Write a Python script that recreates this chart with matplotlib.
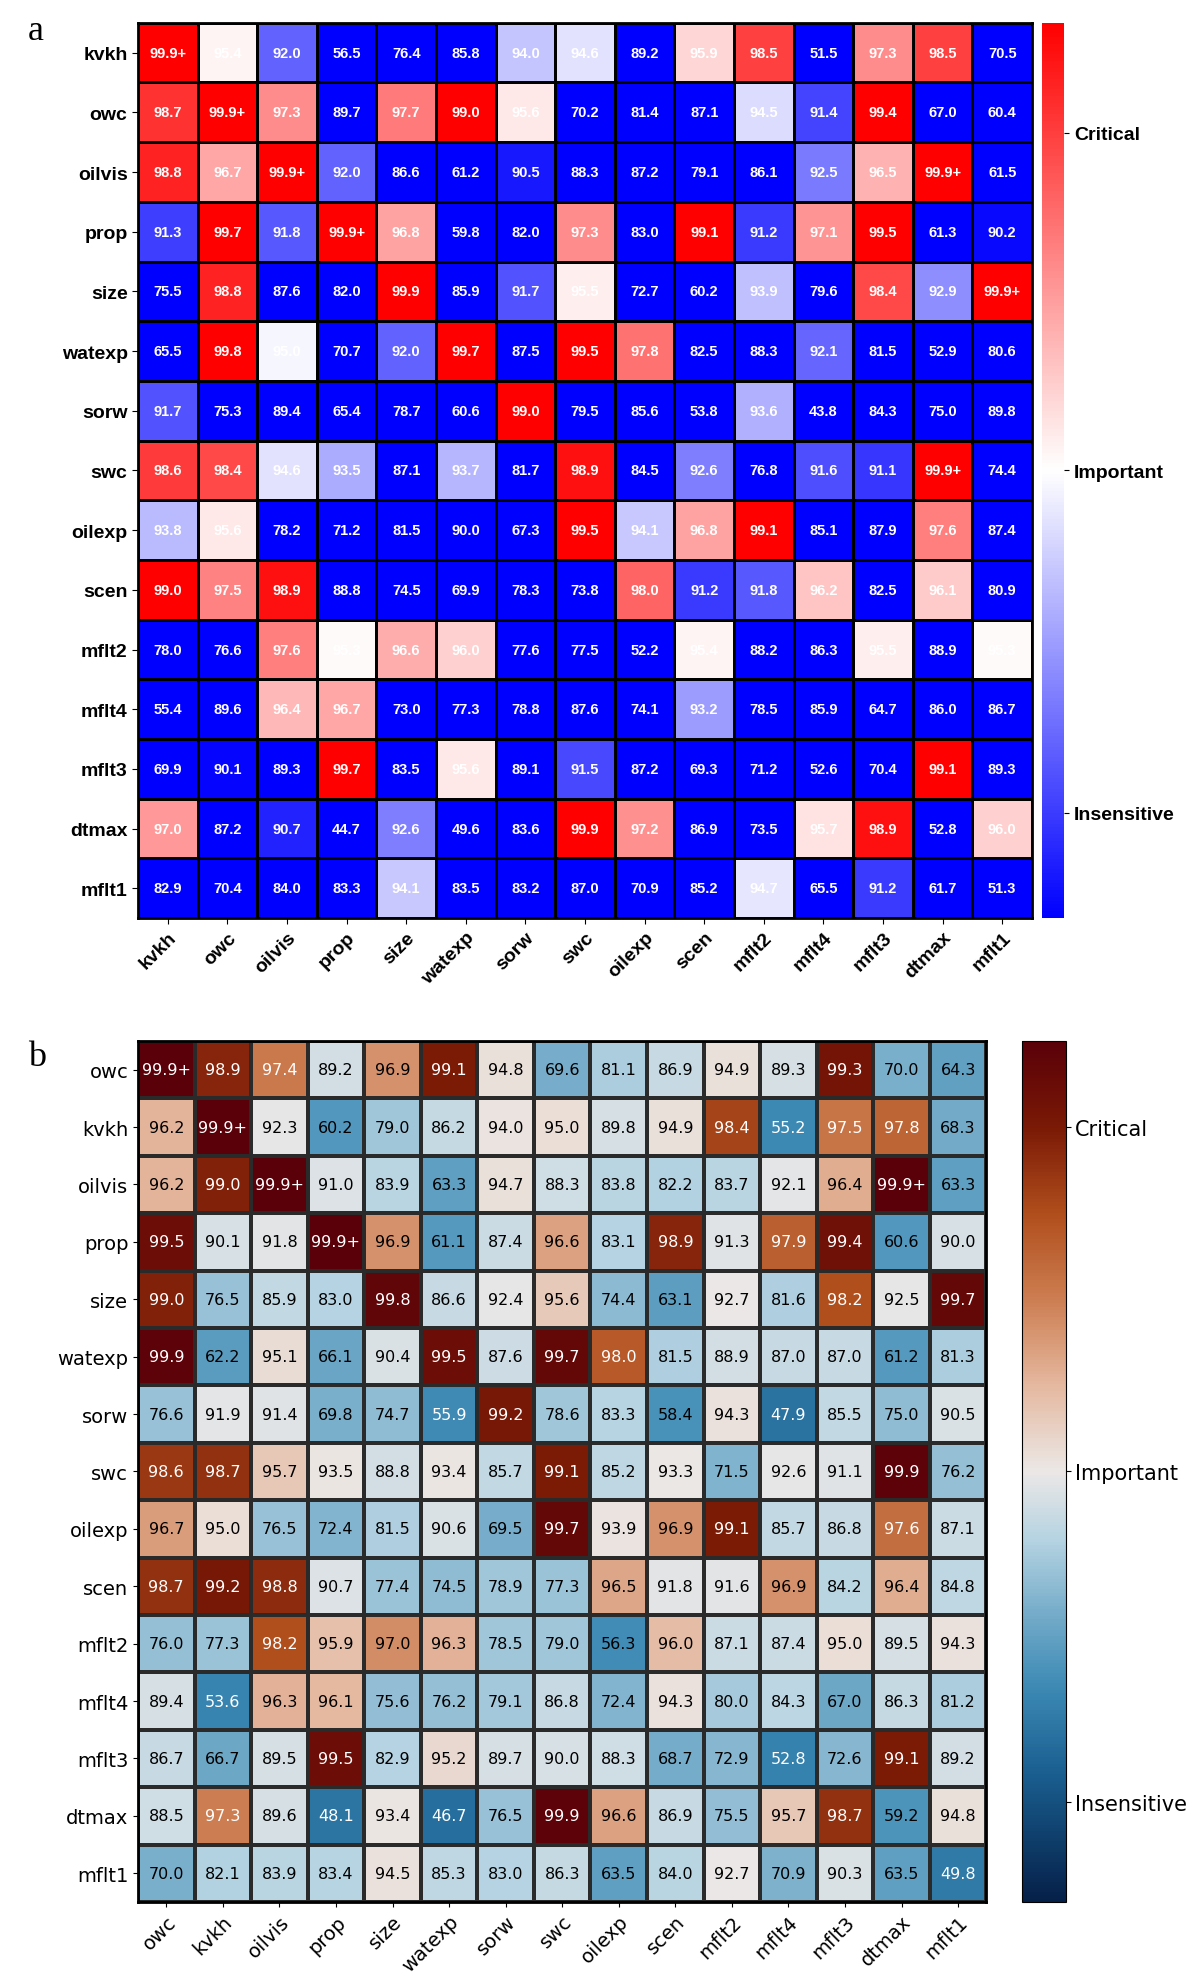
import numpy as np
import matplotlib
matplotlib.use("Agg")
import matplotlib.pyplot as plt
from matplotlib.colors import LinearSegmentedColormap, Normalize
from matplotlib.cm import ScalarMappable

# ---- data ----
names_a = ["kvkh", "owc", "oilvis", "prop", "size", "watexp", "sorw", "swc",
           "oilexp", "scen", "mflt2", "mflt4", "mflt3", "dtmax", "mflt1"]
labels_a = [
    "99.9+ 95.4 92.0 56.5 76.4 85.8 94.0 94.6 89.2 95.9 98.5 51.5 97.3 98.5 70.5",
    "98.7 99.9+ 97.3 89.7 97.7 99.0 95.6 70.2 81.4 87.1 94.5 91.4 99.4 67.0 60.4",
    "98.8 96.7 99.9+ 92.0 86.6 61.2 90.5 88.3 87.2 79.1 86.1 92.5 96.5 99.9+ 61.5",
    "91.3 99.7 91.8 99.9+ 96.8 59.8 82.0 97.3 83.0 99.1 91.2 97.1 99.5 61.3 90.2",
    "75.5 98.8 87.6 82.0 99.9 85.9 91.7 95.5 72.7 60.2 93.9 79.6 98.4 92.9 99.9+",
    "65.5 99.8 95.0 70.7 92.0 99.7 87.5 99.5 97.8 82.5 88.3 92.1 81.5 52.9 80.6",
    "91.7 75.3 89.4 65.4 78.7 60.6 99.0 79.5 85.6 53.8 93.6 43.8 84.3 75.0 89.8",
    "98.6 98.4 94.6 93.5 87.1 93.7 81.7 98.9 84.5 92.6 76.8 91.6 91.1 99.9+ 74.4",
    "93.8 95.6 78.2 71.2 81.5 90.0 67.3 99.5 94.1 96.8 99.1 85.1 87.9 97.6 87.4",
    "99.0 97.5 98.9 88.8 74.5 69.9 78.3 73.8 98.0 91.2 91.8 96.2 82.5 96.1 80.9",
    "78.0 76.6 97.6 95.3 96.6 96.0 77.6 77.5 52.2 95.4 88.2 86.3 95.5 88.9 95.3",
    "55.4 89.6 96.4 96.7 73.0 77.3 78.8 87.6 74.1 93.2 78.5 85.9 64.7 86.0 86.7",
    "69.9 90.1 89.3 99.7 83.5 95.6 89.1 91.5 87.2 69.3 71.2 52.6 70.4 99.1 89.3",
    "97.0 87.2 90.7 44.7 92.6 49.6 83.6 99.9 97.2 86.9 73.5 95.7 98.9 52.8 96.0",
    "82.9 70.4 84.0 83.3 94.1 83.5 83.2 87.0 70.9 85.2 94.7 65.5 91.2 61.7 51.3",
]

names_b = ["owc", "kvkh", "oilvis", "prop", "size", "watexp", "sorw", "swc",
           "oilexp", "scen", "mflt2", "mflt4", "mflt3", "dtmax", "mflt1"]
labels_b = [
    "99.9+ 98.9 97.4 89.2 96.9 99.1 94.8 69.6 81.1 86.9 94.9 89.3 99.3 70.0 64.3",
    "96.2 99.9+ 92.3 60.2 79.0 86.2 94.0 95.0 89.8 94.9 98.4 55.2 97.5 97.8 68.3",
    "96.2 99.0 99.9+ 91.0 83.9 63.3 94.7 88.3 83.8 82.2 83.7 92.1 96.4 99.9+ 63.3",
    "99.5 90.1 91.8 99.9+ 96.9 61.1 87.4 96.6 83.1 98.9 91.3 97.9 99.4 60.6 90.0",
    "99.0 76.5 85.9 83.0 99.8 86.6 92.4 95.6 74.4 63.1 92.7 81.6 98.2 92.5 99.7",
    "99.9 62.2 95.1 66.1 90.4 99.5 87.6 99.7 98.0 81.5 88.9 87.0 87.0 61.2 81.3",
    "76.6 91.9 91.4 69.8 74.7 55.9 99.2 78.6 83.3 58.4 94.3 47.9 85.5 75.0 90.5",
    "98.6 98.7 95.7 93.5 88.8 93.4 85.7 99.1 85.2 93.3 71.5 92.6 91.1 99.9 76.2",
    "96.7 95.0 76.5 72.4 81.5 90.6 69.5 99.7 93.9 96.9 99.1 85.7 86.8 97.6 87.1",
    "98.7 99.2 98.8 90.7 77.4 74.5 78.9 77.3 96.5 91.8 91.6 96.9 84.2 96.4 84.8",
    "76.0 77.3 98.2 95.9 97.0 96.3 78.5 79.0 56.3 96.0 87.1 87.4 95.0 89.5 94.3",
    "89.4 53.6 96.3 96.1 75.6 76.2 79.1 86.8 72.4 94.3 80.0 84.3 67.0 86.3 81.2",
    "86.7 66.7 89.5 99.5 82.9 95.2 89.7 90.0 88.3 68.7 72.9 52.8 72.6 99.1 89.2",
    "88.5 97.3 89.6 48.1 93.4 46.7 76.5 99.9 96.6 86.9 75.5 95.7 98.7 59.2 94.8",
    "70.0 82.1 83.9 83.4 94.5 85.3 83.0 86.3 63.5 84.0 92.7 70.9 90.3 63.5 49.8",
]

cbar_ticks = ["Insensitive", "Important", "Critical"]


def parse(rows):
    txt = [r.split() for r in rows]
    val = np.array([[100.0 if t == "99.9+" else float(t) for t in r] for r in txt])
    return txt, val


txt_a, val_a = parse(labels_a)
txt_b, val_b = parse(labels_b)

# nonlinear mapping of score onto colour position
f_a = np.interp(val_a, [90, 95.2, 96.7, 97.7, 98.7, 99.0], [0, 0.5, 0.675, 0.76, 0.9, 1.0])
f_b = np.interp(val_b, [40, 48, 63, 80, 90, 95, 96.4, 97.5, 98.4, 99.3, 100],
                [0.1, 0.2, 0.3, 0.4, 0.47, 0.52, 0.62, 0.72, 0.82, 0.92, 1.0])

cmap_b = LinearSegmentedColormap.from_list("sens", [
    (0.0, "#052049"), (0.15, "#1a5f90"), (0.25, "#3d8ab5"), (0.33, "#72aac8"),
    (0.42, "#b5d3e2"), (0.5, "#ebe8e6"), (0.6, "#e5b8a0"), (0.7, "#cd7e52"),
    (0.8, "#b04e1c"), (0.9, "#7a1a06"), (1.0, "#5a0008")])

fig = plt.figure(figsize=(12, 19.81), dpi=100)

# ---- panel a ----
ax = fig.add_axes([0.115, 0.536, 0.745, 0.452])
ax.pcolormesh(f_a, cmap="bwr", vmin=0, vmax=1, edgecolors="black", linewidth=2)
ax.set_xlim(0, 15); ax.set_ylim(15, 0)
for i in range(15):
    for j in range(15):
        ax.text(j + 0.5, i + 0.5, txt_a[i][j], ha="center", va="center", color="white",
                fontsize=10.5, fontweight="bold", family="Liberation Sans")
ax.set_xticks(np.arange(15) + 0.5)
ax.set_yticks(np.arange(15) + 0.5)
ax.set_xticklabels(names_a, rotation=45, ha="right", rotation_mode="anchor",
                   fontsize=14, fontweight="bold", family="Liberation Sans")
ax.set_yticklabels(names_a, fontsize=14, fontweight="bold", family="Liberation Sans")
for s in ax.spines.values():
    s.set_linewidth(2)
ax.tick_params(length=4)

cax = fig.add_axes([0.868, 0.536, 0.019, 0.452])
cb = fig.colorbar(ScalarMappable(Normalize(0, 1), "bwr"), cax=cax)
cb.outline.set_visible(False)
cb.set_ticks([0.118, 0.5, 0.877])
cb.set_ticklabels(cbar_ticks)
for t in cax.get_yticklabels():
    t.set_fontsize(14); t.set_fontweight("bold"); t.set_family("Liberation Sans")

# ---- panel b ----
bx = fig.add_axes([0.115, 0.0394, 0.707, 0.4346])
bx.pcolormesh(f_b, cmap=cmap_b, vmin=0, vmax=1, edgecolors="#2a2a2a", linewidth=1.5)
bx.set_xlim(0, 15); bx.set_ylim(15, 0)
for i in range(15):
    for j in range(15):
        v = val_b[i, j]
        col = "white" if (v >= 97.2 or v < 56) else "black"
        bx.text(j + 0.5, i + 0.5, txt_b[i][j], ha="center", va="center", color=col, fontsize=11.5)
bx.set_xticks(np.arange(15) + 0.5)
bx.set_yticks(np.arange(15) + 0.5)
bx.set_xticklabels(names_b, rotation=45, ha="right", rotation_mode="anchor", fontsize=14)
bx.set_yticklabels(names_b, fontsize=14)
for s in bx.spines.values():
    s.set_linewidth(2)

cbx = fig.add_axes([0.852, 0.0394, 0.036, 0.4346])
cb2 = fig.colorbar(ScalarMappable(Normalize(0, 1), cmap_b), cax=cbx)
cb2.set_ticks([0.116, 0.5, 0.9])
cb2.set_ticklabels(cbar_ticks)
cbx.tick_params(labelsize=15)

fig.text(28 / 1200, 1 - 32 / 1981, "a", fontsize=26, family="Liberation Serif", va="center")
fig.text(28 / 1200, 1 - 1057 / 1981, "b", fontsize=26, family="Liberation Serif", va="center")

fig.savefig("out.png", dpi=100)
